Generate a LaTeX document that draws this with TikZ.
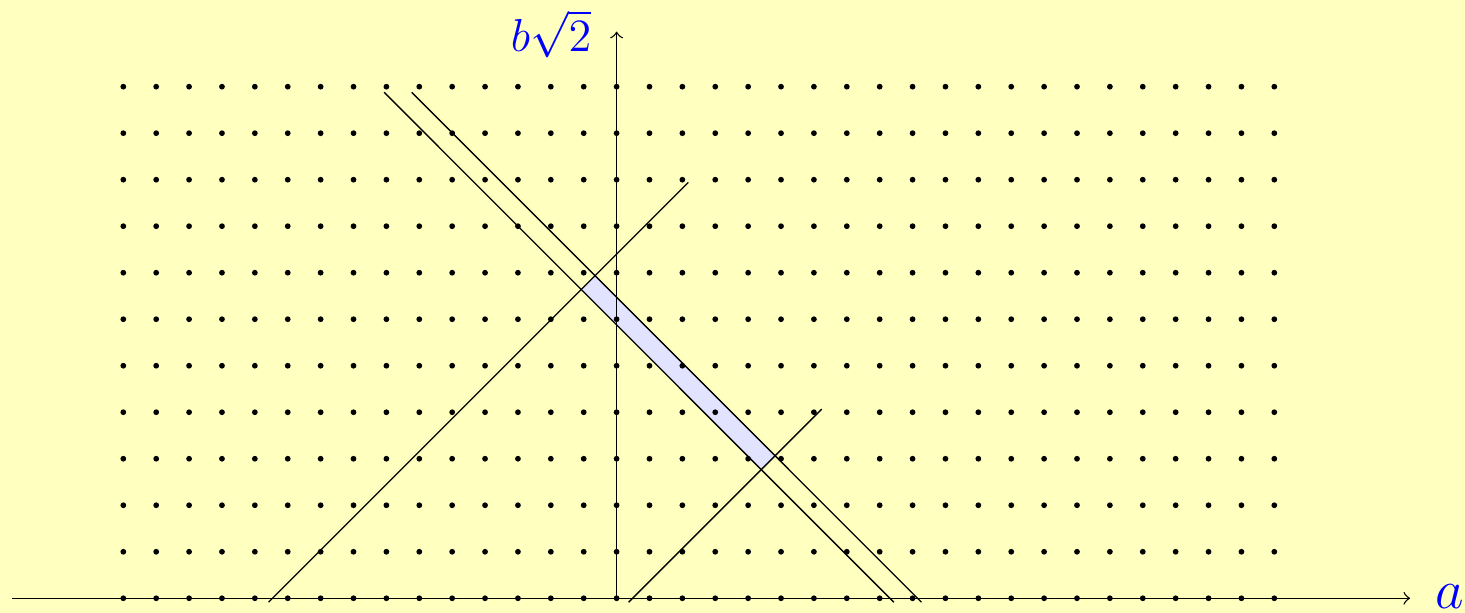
\documentclass[tikz,border=0pt]{standalone}
\definecolor{bgyellow}{RGB}{255,255,192}
\definecolor{stripfill}{RGB}{226,228,255}
\begin{document}
\begin{tikzpicture}[x=0.3cm,y=0.3cm,
  thinline/.style={line width=0.35pt,black},
  lattdot/.style={circle,fill=black,inner sep=0pt,minimum size=1.5pt},
  axislabel/.style={text=blue,inner sep=0pt,anchor=base}]
\fill[bgyellow] (-18.75,-0.447) rectangle (25.798,18.193);
\useasboundingbox (-18.75,-0.447) rectangle (25.798,18.193);
% line endpoints
\coordinate (L1t) at (-7.07,15.386);
\coordinate (L1b) at (8.43,-0.12);
\coordinate (L2t) at (-6.23,15.386);
\coordinate (L2b) at (9.27,-0.12);
\coordinate (M1b) at (-10.585,-0.12);
\coordinate (M1t) at (2.18,12.645);
\coordinate (M2b) at (0.367,-0.12);
\coordinate (M2t) at (6.237,5.75);
% shaded strip
\fill[stripfill] (intersection of L1t--L1b and M1b--M1t)
  -- (intersection of L2t--L2b and M1b--M1t)
  -- (intersection of L2t--L2b and M2b--M2t)
  -- (intersection of L1t--L1b and M2b--M2t) -- cycle;
% axes
\coordinate (xs) at (-18.38,0);
\coordinate (xe) at (24.13,0);
\coordinate (O) at (0,0);
\coordinate (ye) at (0,17.23);
\draw[thinline,->] (xs) -- (xe);
\draw[thinline,->] (O) -- (ye);
% lines
\draw[thinline] (L1t) -- (L1b);
\draw[thinline] (L2t) -- (L2b);
\draw[thinline] (M1b) -- (M1t);
\draw[thinline] (M2b) -- (M2t);
% lattice dots
\foreach \i in {-15,...,20} {
  \foreach \j in {0,...,11} {
    \node[lattdot] (d\i-\j) at (\i,{\j*1.41421}) {};
  }
}
% labels
\node[axislabel,font=\Large] (alab) at (25.34,-0.30) {$a$};
\node[axislabel,font=\large] (blab) at (-1.995,16.62) {$b\sqrt{2}$};
\end{tikzpicture}
\end{document}
